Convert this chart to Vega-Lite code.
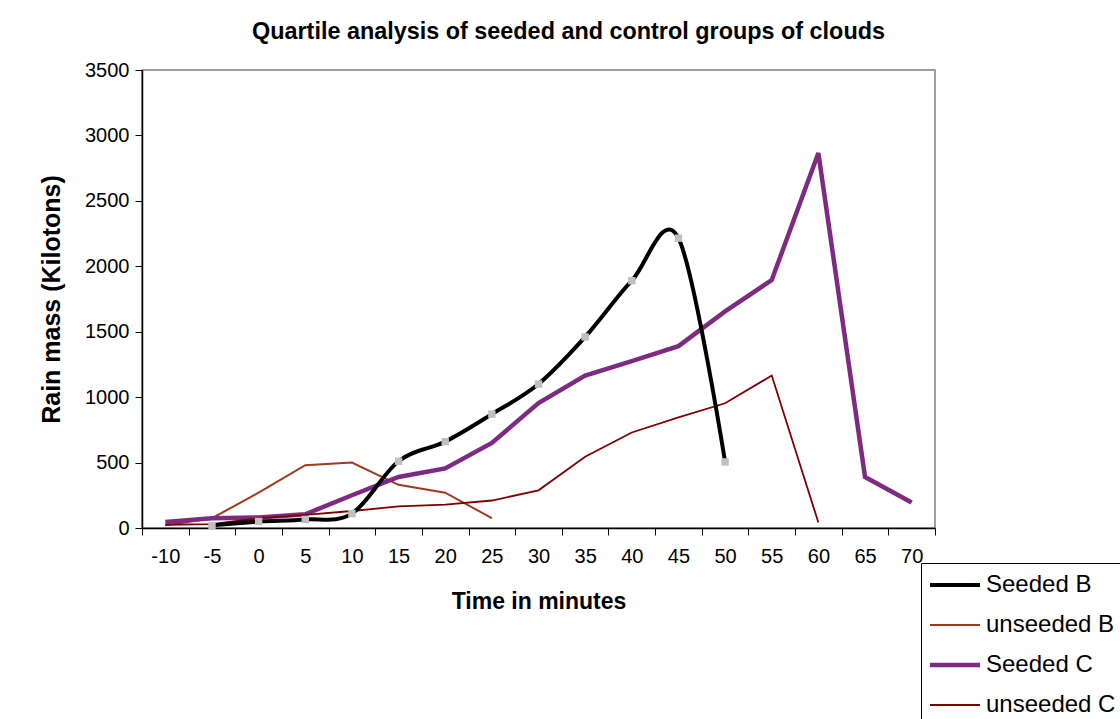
{
  "$schema": "https://vega.github.io/schema/vega-lite/v6.json",
  "width": 793,
  "height": 458,
  "autosize": "none",
  "padding": {"left": 142, "top": 70, "right": 185, "bottom": 191},
  "background": "white",
  "title": {
    "text": "Quartile analysis of seeded and control groups of clouds",
    "font": "Liberation Sans",
    "fontSize": 23.4,
    "fontWeight": "bold",
    "color": "black",
    "anchor": "middle",
    "dx": 30,
    "offset": 16
  },
  "config": {
    "view": {"stroke": "#808080", "strokeWidth": 1.5},
    "axis": {"grid": false, "labelFont": "Liberation Sans", "titleFont": "Liberation Sans", "labelColor": "black", "titleColor": "black", "domainColor": "black", "tickColor": "black"}
  },
  "data": {
    "values": [
      {"t": -5, "series": "Seeded B", "mass": 20},
      {"t": 0, "series": "Seeded B", "mass": 50},
      {"t": 5, "series": "Seeded B", "mass": 65},
      {"t": 10, "series": "Seeded B", "mass": 110},
      {"t": 15, "series": "Seeded B", "mass": 510},
      {"t": 20, "series": "Seeded B", "mass": 660},
      {"t": 25, "series": "Seeded B", "mass": 870},
      {"t": 30, "series": "Seeded B", "mass": 1100},
      {"t": 35, "series": "Seeded B", "mass": 1460},
      {"t": 40, "series": "Seeded B", "mass": 1890},
      {"t": 45, "series": "Seeded B", "mass": 2215},
      {"t": 50, "series": "Seeded B", "mass": 505},
      {"t": -10, "series": "unseeded B", "mass": 20},
      {"t": -5, "series": "unseeded B", "mass": 75},
      {"t": 0, "series": "unseeded B", "mass": 270},
      {"t": 5, "series": "unseeded B", "mass": 480},
      {"t": 10, "series": "unseeded B", "mass": 500},
      {"t": 15, "series": "unseeded B", "mass": 330},
      {"t": 20, "series": "unseeded B", "mass": 270},
      {"t": 25, "series": "unseeded B", "mass": 75},
      {"t": -10, "series": "Seeded C", "mass": 45},
      {"t": -5, "series": "Seeded C", "mass": 75},
      {"t": 0, "series": "Seeded C", "mass": 80},
      {"t": 5, "series": "Seeded C", "mass": 105},
      {"t": 10, "series": "Seeded C", "mass": 250},
      {"t": 15, "series": "Seeded C", "mass": 390},
      {"t": 20, "series": "Seeded C", "mass": 455},
      {"t": 25, "series": "Seeded C", "mass": 650},
      {"t": 30, "series": "Seeded C", "mass": 955},
      {"t": 35, "series": "Seeded C", "mass": 1165},
      {"t": 40, "series": "Seeded C", "mass": 1275},
      {"t": 45, "series": "Seeded C", "mass": 1390},
      {"t": 50, "series": "Seeded C", "mass": 1655},
      {"t": 55, "series": "Seeded C", "mass": 1895},
      {"t": 60, "series": "Seeded C", "mass": 2865},
      {"t": 65, "series": "Seeded C", "mass": 390},
      {"t": 70, "series": "Seeded C", "mass": 195},
      {"t": -10, "series": "unseeded C", "mass": 25},
      {"t": -5, "series": "unseeded C", "mass": 30},
      {"t": 0, "series": "unseeded C", "mass": 75},
      {"t": 5, "series": "unseeded C", "mass": 100},
      {"t": 10, "series": "unseeded C", "mass": 130},
      {"t": 15, "series": "unseeded C", "mass": 165},
      {"t": 20, "series": "unseeded C", "mass": 178},
      {"t": 25, "series": "unseeded C", "mass": 210},
      {"t": 30, "series": "unseeded C", "mass": 288},
      {"t": 35, "series": "unseeded C", "mass": 545},
      {"t": 40, "series": "unseeded C", "mass": 730},
      {"t": 45, "series": "unseeded C", "mass": 845},
      {"t": 50, "series": "unseeded C", "mass": 953},
      {"t": 55, "series": "unseeded C", "mass": 1165},
      {"t": 60, "series": "unseeded C", "mass": 42}
    ]
  },
  "encoding": {
    "x": {
      "field": "t",
      "type": "ordinal",
      "bandPosition": 0.5,
      "scale": {"type": "band", "domain": [-10, -5, 0, 5, 10, 15, 20, 25, 30, 35, 40, 45, 50, 55, 60, 65, 70], "paddingInner": 0, "paddingOuter": 0},
      "axis": {
        "title": "Time in minutes",
        "titleFontSize": 23,
        "titleFontWeight": "bold",
        "titlePadding": 24,
        "labelFontSize": 20,
        "labelAngle": 0,
        "labelPadding": 11,
        "tickSize": 7,
        "tickBand": "extent",
        "domainWidth": 1.5
      }
    },
    "y": {
      "field": "mass",
      "type": "quantitative",
      "scale": {"domain": [0, 3500]},
      "axis": {
        "title": "Rain mass (Kilotons)",
        "titleFontSize": 25,
        "titleFontWeight": "bold",
        "titlePadding": 20,
        "labelFontSize": 20,
        "labelPadding": 6,
        "tickSize": 7,
        "format": "d",
        "values": [0, 500, 1000, 1500, 2000, 2500, 3000, 3500],
        "domainWidth": 1.5
      }
    }
  },
  "layer": [
    {
      "transform": [{"filter": "datum.series !== 'Seeded B'"}],
      "mark": {"type": "line", "interpolate": "linear"},
      "encoding": {
        "color": {
          "field": "series",
          "type": "nominal",
          "sort": ["Seeded B", "unseeded B", "Seeded C", "unseeded C"],
          "scale": {"domain": ["Seeded B", "unseeded B", "Seeded C", "unseeded C"], "range": ["#000000", "#A0391E", "#7F2A82", "#800000"]},
          "legend": {
            "title": null,
            "orient": "none",
            "legendX": 779,
            "legendY": 493,
            "strokeColor": "black",
            "padding": 10,
            "symbolType": "M-5,0L5,0",
            "symbolSize": 100,
            "symbolOffset": 12,
            "labelFont": "Liberation Sans",
            "labelFontSize": 24,
            "labelColor": "black",
            "labelOffset": 19,
            "rowPadding": 16,
            "fillColor": "white"
          }
        },
        "strokeWidth": {
          "field": "series",
          "type": "nominal",
          "sort": ["Seeded B", "unseeded B", "Seeded C", "unseeded C"],
          "scale": {"type": "ordinal", "domain": ["Seeded B", "unseeded B", "Seeded C", "unseeded C"], "range": [4, 2, 4.5, 1.8]},
          "legend": null
        }
      }
    },
    {
      "transform": [{"filter": "datum.series === 'Seeded B'"}],
      "mark": {"type": "line", "interpolate": "cardinal", "tension": 0},
      "encoding": {
        "color": {
          "field": "series",
          "type": "nominal",
          "sort": ["Seeded B", "unseeded B", "Seeded C", "unseeded C"],
          "scale": {"domain": ["Seeded B", "unseeded B", "Seeded C", "unseeded C"], "range": ["#000000", "#A0391E", "#7F2A82", "#800000"]}
        },
        "strokeWidth": {
          "field": "series",
          "type": "nominal",
          "sort": ["Seeded B", "unseeded B", "Seeded C", "unseeded C"],
          "scale": {"type": "ordinal", "domain": ["Seeded B", "unseeded B", "Seeded C", "unseeded C"], "range": [4, 2, 4.5, 1.8]},
          "legend": null
        }
      }
    },
    {
      "transform": [{"filter": "datum.series === 'Seeded B'"}],
      "mark": {"type": "point", "shape": "square", "filled": true, "color": "#C0C0C0", "size": 55, "opacity": 1}
    }
  ]
}
